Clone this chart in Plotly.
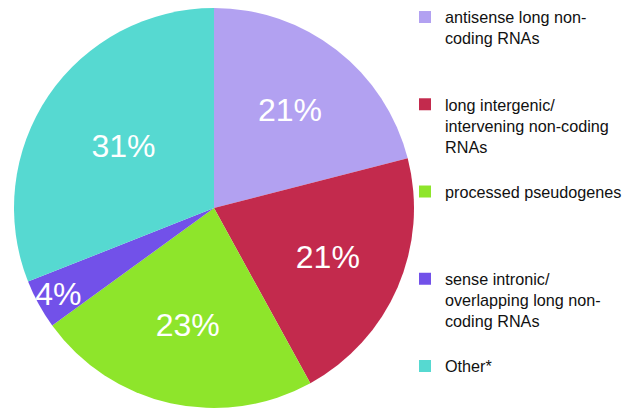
import plotly.graph_objects as go

# slice labels as written in the legend (line breaks as in the picture)
labels = [
    "antisense long non-<br>coding RNAs",
    "long intergenic/<br>intervening non-coding<br>RNAs",
    "processed pseudogenes",
    "sense intronic/<br>overlapping long non-<br>coding RNAs",
    "Other*",
]
values = [21, 21, 23, 4, 31]
colors = ["#B2A1F1", "#C32A4D", "#8EE52B", "#7251E9", "#56D9D1"]

# pad every legend entry to the same number of lines so entries are evenly spaced
n_lines = 4
legend_text = []
for lab in labels[:-1]:
    k = lab.count("<br>") + 1
    legend_text.append(lab + "<br> " * (n_lines - k))
legend_text.append(labels[-1])

fig = go.Figure(go.Pie(
    labels=legend_text,
    values=values,
    marker=dict(colors=colors, line=dict(width=0)),
    sort=False,
    direction="clockwise",
    rotation=0,
    texttemplate="%{percent:.0%}",
    textposition="inside",
    insidetextorientation="horizontal",
    textfont=dict(family="Liberation Sans, Arial", size=32, color="white"),
    domain=dict(x=[14 / 642, 414 / 642], y=[1 - 409 / 417, 1 - 7 / 417]),
    hoverinfo="label+percent",
))

fig.update_layout(
    width=642, height=417,
    margin=dict(l=0, r=0, t=0, b=0),
    paper_bgcolor="white",
    plot_bgcolor="white",
    font=dict(family="Liberation Sans, Arial", color="#111111"),
    uniformtext=dict(minsize=32, mode="show"),
    legend=dict(
        x=405 / 642, xanchor="left",
        y=1, yanchor="top",
        valign="top",
        font=dict(size=16.2, color="#111111"),
        bgcolor="rgba(0,0,0,0)",
    ),
)

# the page's default 8px body margin would shift the chart
fig.write_html("out.html", config={"displayModeBar": False},
               post_script="document.body.style.margin='0';")
